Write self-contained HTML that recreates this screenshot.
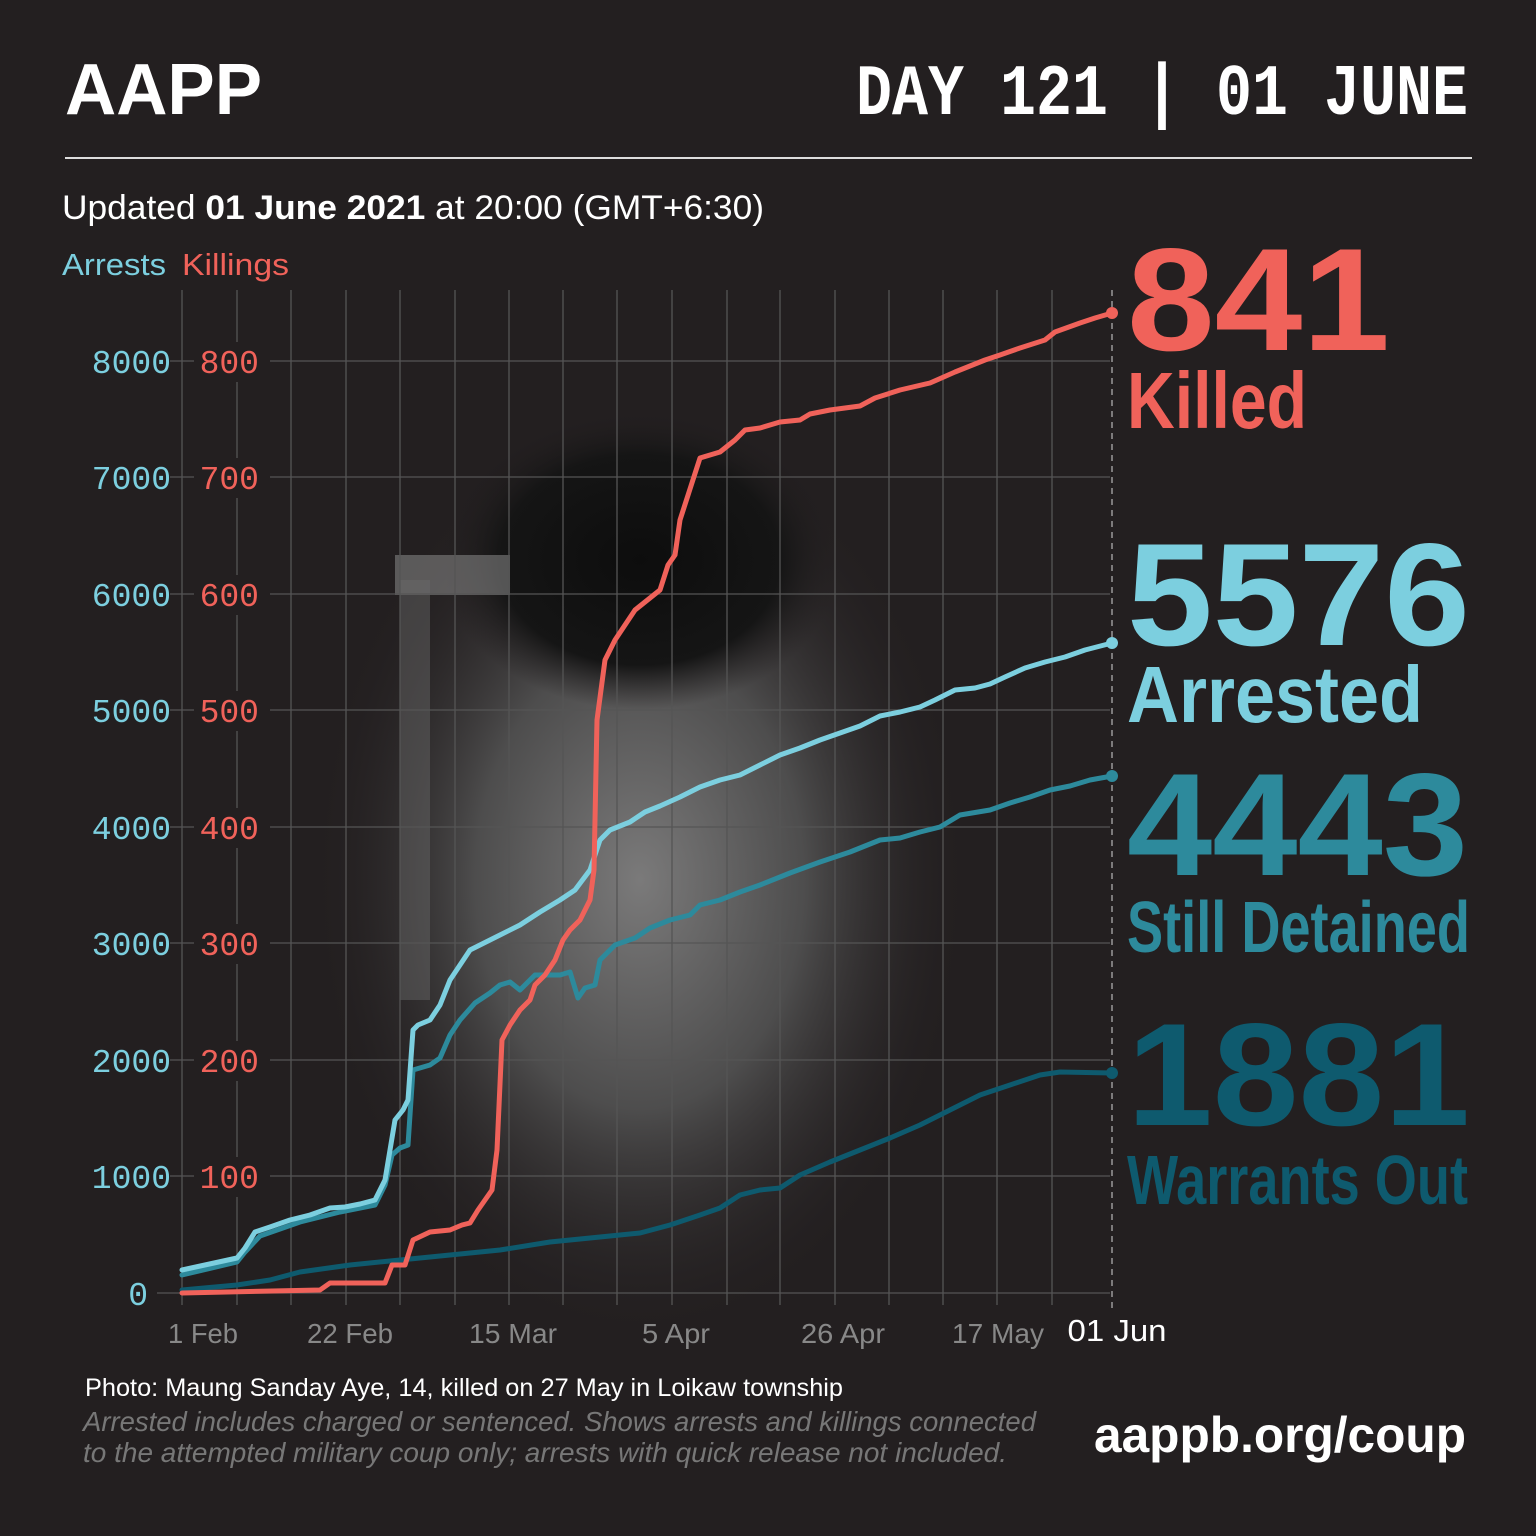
<!DOCTYPE html>
<html><head><meta charset="utf-8"><style>
html,body{margin:0;padding:0;background:#231f20;}
svg{display:block}
</style></head><body>
<svg width="1536" height="1536" viewBox="0 0 1536 1536" xmlns="http://www.w3.org/2000/svg">
<defs>
<radialGradient id="ph" cx="0.5" cy="0.5" r="0.5">
<stop offset="0" stop-color="#8a8a8a"/><stop offset="0.5" stop-color="#555"/><stop offset="1" stop-color="#231f20" stop-opacity="0"/>
</radialGradient>
<radialGradient id="hair" cx="0.5" cy="0.5" r="0.5">
<stop offset="0" stop-color="#0d0d0d"/><stop offset="0.7" stop-color="#151515"/><stop offset="1" stop-color="#231f20" stop-opacity="0"/>
</radialGradient>
</defs>
<rect width="1536" height="1536" fill="#231f20"/>
<ellipse cx="640" cy="880" rx="330" ry="460" fill="url(#ph)" opacity="0.85"/>
<ellipse cx="640" cy="560" rx="200" ry="150" fill="url(#hair)"/>
<rect x="395" y="555" width="115" height="40" fill="#8a8a8a" opacity="0.55"/>
<rect x="400" y="580" width="30" height="420" fill="#6a6a6a" opacity="0.45"/>
<g stroke="#555" stroke-width="1.3">
<line x1="170" y1="361" x2="1110" y2="361"/><line x1="170" y1="477" x2="1110" y2="477"/>
<line x1="170" y1="594" x2="1110" y2="594"/><line x1="170" y1="710" x2="1110" y2="710"/>
<line x1="170" y1="827" x2="1110" y2="827"/><line x1="170" y1="943" x2="1110" y2="943"/>
<line x1="170" y1="1060" x2="1110" y2="1060"/><line x1="170" y1="1176" x2="1110" y2="1176"/>
<line x1="157" y1="1293" x2="1110" y2="1293"/>
<line x1="182" y1="290" x2="182" y2="1305"/><line x1="237" y1="290" x2="237" y2="1305"/>
<line x1="291" y1="290" x2="291" y2="1305"/><line x1="346" y1="290" x2="346" y2="1305"/>
<line x1="400" y1="290" x2="400" y2="1305"/><line x1="455" y1="290" x2="455" y2="1305"/>
<line x1="509" y1="290" x2="509" y2="1305"/><line x1="563" y1="290" x2="563" y2="1305"/>
<line x1="617" y1="290" x2="617" y2="1305"/><line x1="672" y1="290" x2="672" y2="1305"/>
<line x1="727" y1="290" x2="727" y2="1305"/><line x1="780" y1="290" x2="780" y2="1305"/>
<line x1="835" y1="290" x2="835" y2="1305"/><line x1="889" y1="290" x2="889" y2="1305"/>
<line x1="943" y1="290" x2="943" y2="1305"/><line x1="997" y1="290" x2="997" y2="1305"/>
<line x1="1052" y1="290" x2="1052" y2="1305"/>
</g>
<g fill="#231f20">
<rect x="194" y="342" width="76" height="40"/><rect x="194" y="458" width="76" height="40"/>
<rect x="194" y="575" width="76" height="40"/><rect x="194" y="691" width="76" height="40"/>
<rect x="194" y="808" width="76" height="40"/><rect x="194" y="924" width="76" height="40"/>
<rect x="194" y="1041" width="76" height="40"/><rect x="194" y="1157" width="76" height="40"/>
</g>
<line x1="1112" y1="290" x2="1112" y2="1310" stroke="#999" stroke-width="1.5" stroke-dasharray="6,5"/>
<g font-family="Liberation Mono, monospace" font-size="33" text-anchor="end">
<g fill="#7ccfdf">
<text x="171" y="373">8000</text><text x="171" y="489">7000</text><text x="171" y="606">6000</text>
<text x="171" y="722">5000</text><text x="171" y="839">4000</text><text x="171" y="955">3000</text>
<text x="171" y="1072">2000</text><text x="171" y="1188">1000</text><text x="148" y="1305">0</text>
</g>
<g fill="#f0625a">
<text x="259" y="373">800</text><text x="259" y="489">700</text><text x="259" y="606">600</text>
<text x="259" y="722">500</text><text x="259" y="839">400</text><text x="259" y="955">300</text>
<text x="259" y="1072">200</text><text x="259" y="1188">100</text>
</g>
</g>
<g font-family="Liberation Sans, sans-serif" font-size="28" fill="#888" text-anchor="middle">
<text x="203" y="1343" textLength="70" lengthAdjust="spacingAndGlyphs">1 Feb</text>
<text x="350" y="1343" textLength="86" lengthAdjust="spacingAndGlyphs">22 Feb</text>
<text x="513" y="1343" textLength="88" lengthAdjust="spacingAndGlyphs">15 Mar</text>
<text x="676" y="1343" textLength="68" lengthAdjust="spacingAndGlyphs">5 Apr</text>
<text x="843" y="1343" textLength="84" lengthAdjust="spacingAndGlyphs">26 Apr</text>
<text x="998" y="1343" textLength="92" lengthAdjust="spacingAndGlyphs">17 May</text>
<text x="1117" y="1341" fill="#fff" font-size="31" textLength="99" lengthAdjust="spacingAndGlyphs">01 Jun</text>
</g>
<g fill="none" stroke-width="5" stroke-linejoin="round" stroke-linecap="round">
<polyline stroke="#0e5a6e" points="182,1290 237,1285 270,1280 300,1272 350,1265 400,1260 450,1255 500,1250 550,1242 600,1237 640,1233 670,1225 700,1215 720,1208 740,1195 760,1190 780,1188 800,1175 830,1162 860,1150 890,1138 920,1125 950,1110 980,1095 1010,1085 1040,1075 1060,1072 1112,1073"/>
<polyline stroke="#2d8a9c" points="182,1275 237,1262 245,1252 260,1236 300,1222 340,1212 375,1205 385,1185 392,1155 400,1148 408,1145 413,1070 430,1065 440,1058 450,1035 460,1020 475,1003 490,993 500,985 510,982 520,990 535,975 560,975 570,972 578,998 585,988 595,985 600,960 615,945 635,938 650,928 670,920 690,915 700,905 720,900 740,892 760,885 790,873 820,862 850,852 880,840 900,838 920,832 940,827 960,815 990,810 1010,803 1030,797 1050,790 1070,786 1090,780 1112,776"/>
<polyline stroke="#7ccfdf" points="182,1270 237,1258 245,1248 255,1232 270,1227 290,1220 310,1215 330,1208 345,1207 360,1204 375,1200 385,1180 390,1150 395,1120 403,1110 408,1100 413,1030 418,1025 430,1020 440,1005 450,980 460,965 470,950 480,945 500,935 520,925 540,912 560,900 575,890 590,870 600,840 610,830 630,822 645,812 660,806 680,797 700,787 720,780 740,775 760,765 780,755 800,748 820,740 840,733 860,726 880,716 900,712 920,707 935,700 955,690 975,688 990,684 1005,677 1025,668 1045,662 1065,657 1085,650 1112,643"/>
<polyline stroke="#f0625a" points="182,1293 320,1290 330,1283 385,1283 392,1265 405,1265 413,1240 430,1232 450,1230 462,1225 470,1223 478,1210 485,1200 492,1190 497,1150 502,1040 510,1025 520,1010 530,1000 535,985 545,975 555,960 563,940 570,930 580,920 590,900 594,870 597,720 605,660 615,640 625,625 635,610 650,598 660,590 668,565 675,555 680,520 700,458 720,452 735,440 745,430 760,428 780,422 800,420 810,414 830,410 860,406 875,398 900,390 930,383 955,372 985,360 1000,355 1020,348 1045,340 1055,332 1080,323 1095,318 1112,313"/>
</g>
<circle cx="1112" cy="313" r="6" fill="#f0625a"/>
<circle cx="1112" cy="643" r="6" fill="#7ccfdf"/>
<circle cx="1112" cy="776" r="6" fill="#2d8a9c"/>
<circle cx="1112" cy="1073" r="6" fill="#0e5a6e"/>
<text x="65" y="114" font-family="Liberation Sans, sans-serif" font-weight="bold" font-size="72" fill="#fff" textLength="197" lengthAdjust="spacingAndGlyphs">AAPP</text>
<text x="1468" y="114" text-anchor="end" font-family="Liberation Mono, monospace" font-weight="bold" font-size="72" fill="#fff" textLength="612" lengthAdjust="spacingAndGlyphs">DAY 121 | 01 JUNE</text>
<line x1="65" y1="158" x2="1472" y2="158" stroke="#ddd" stroke-width="2"/>
<text x="62" y="219" font-family="Liberation Sans, sans-serif" font-size="34" fill="#fff" textLength="702" lengthAdjust="spacingAndGlyphs">Updated <tspan font-weight="bold">01 June 2021</tspan> at 20:00 (GMT+6:30)</text>
<text x="62" y="275" font-family="Liberation Sans, sans-serif" font-size="31" fill="#7ccfdf" textLength="104" lengthAdjust="spacingAndGlyphs">Arrests</text>
<text x="182" y="275" font-family="Liberation Sans, sans-serif" font-size="31" fill="#f0625a" textLength="107" lengthAdjust="spacingAndGlyphs">Killings</text>
<g font-family="Liberation Sans, sans-serif" font-weight="bold">
<text x="1127" y="350" font-size="146" fill="#f0625a" textLength="263" lengthAdjust="spacingAndGlyphs">841</text>
<text x="1127" y="428" font-size="80" fill="#f0625a" textLength="180" lengthAdjust="spacingAndGlyphs">Killed</text>
<text x="1127" y="645" font-size="146" fill="#7ccfdf" textLength="343" lengthAdjust="spacingAndGlyphs">5576</text>
<text x="1127" y="722" font-size="80" fill="#7ccfdf" textLength="296" lengthAdjust="spacingAndGlyphs">Arrested</text>
<text x="1127" y="875" font-size="146" fill="#2d8a9c" textLength="341" lengthAdjust="spacingAndGlyphs">4443</text>
<text x="1127" y="952" font-size="72" fill="#2d8a9c" textLength="343" lengthAdjust="spacingAndGlyphs">Still Detained</text>
<text x="1127" y="1125" font-size="146" fill="#0e5a6e" textLength="343" lengthAdjust="spacingAndGlyphs">1881</text>
<text x="1127" y="1204" font-size="70" fill="#0e5a6e" textLength="341" lengthAdjust="spacingAndGlyphs">Warrants Out</text>
</g>
<text x="85" y="1396" font-family="Liberation Sans, sans-serif" font-size="25" fill="#fff" textLength="758" lengthAdjust="spacingAndGlyphs">Photo: Maung Sanday Aye, 14, killed on 27 May in Loikaw township</text>
<text x="83" y="1431" font-family="Liberation Sans, sans-serif" font-style="italic" font-size="28" fill="#777" textLength="953" lengthAdjust="spacingAndGlyphs">Arrested includes charged or sentenced. Shows arrests and killings connected</text>
<text x="83" y="1462" font-family="Liberation Sans, sans-serif" font-style="italic" font-size="28" fill="#777" textLength="924" lengthAdjust="spacingAndGlyphs">to the attempted military coup only; arrests with quick release not included.</text>
<text x="1466" y="1452" text-anchor="end" font-family="Liberation Sans, sans-serif" font-weight="bold" font-size="50" fill="#fff" textLength="372" lengthAdjust="spacingAndGlyphs">aappb.org/coup</text>
</svg>
</body></html>
